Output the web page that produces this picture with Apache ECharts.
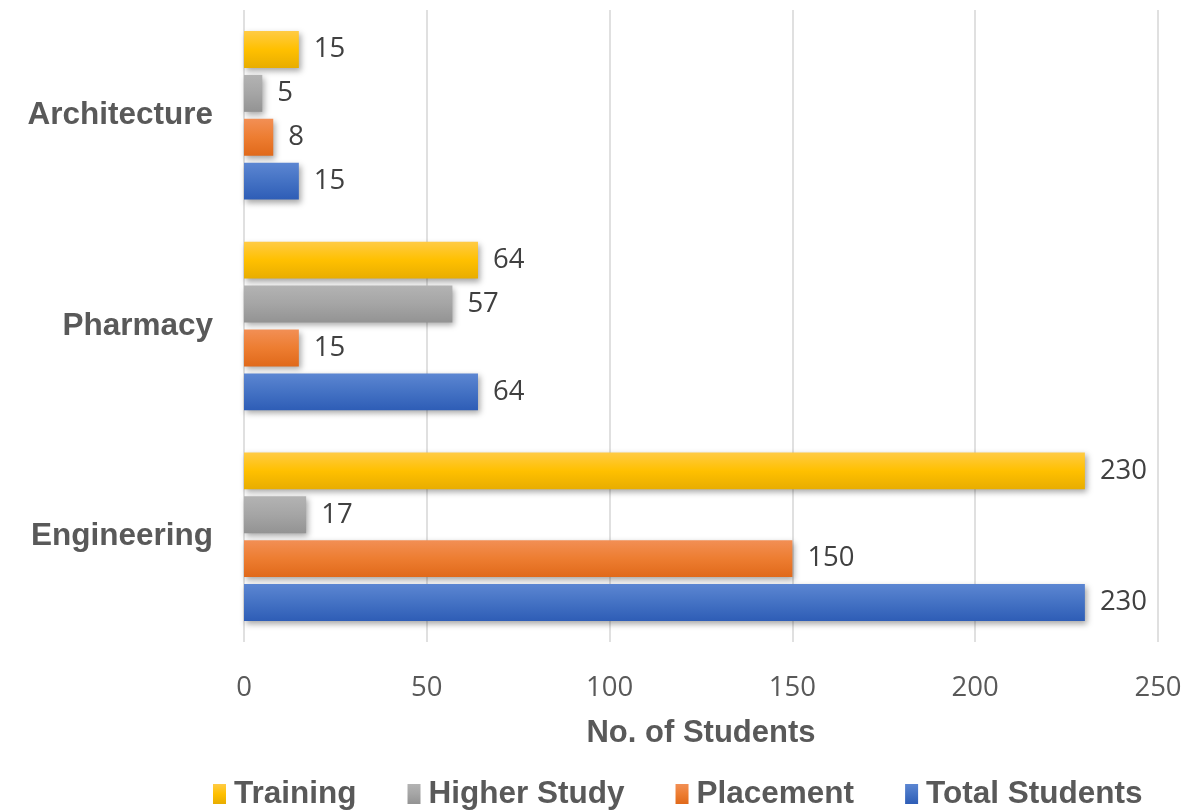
<!DOCTYPE html>
<html>
<head>
<meta charset="utf-8">
<script src="https://cdn.jsdelivr.net/npm/echarts@6/dist/echarts.min.js"></script>
<style>
  html, body { margin: 0; padding: 0; background: #ffffff; }
  #chart { width: 1196px; height: 812px; }
</style>
</head>
<body>
<div id="chart"></div>
<script>
// Programmes (bottom to top on the vertical axis)
const categories = ['Engineering', 'Pharmacy', 'Architecture'];

// Student counts per programme, same order as categories
const training = [230, 64, 15];
const higherStudy = [17, 57, 5];
const placement = [150, 15, 8];
const totalStudents = [230, 64, 15];

// Value axis range
const xMin = 0;
const xMax = 250;
const xStep = 50;

const legendOrder = ['Training', 'Higher Study', 'Placement', 'Total Students'];

function shade(top, mid, bottom) {
  return new echarts.graphic.LinearGradient(0, 0, 0, 1, [
    { offset: 0, color: top },
    { offset: 0.5, color: mid },
    { offset: 1, color: bottom }
  ]);
}

const palette = {
  'Training': shade('#FFCB45', '#FFC000', '#E8AD00'),
  'Higher Study': shade('#B3B3B3', '#A5A5A5', '#939393'),
  'Placement': shade('#F28F55', '#ED7D31', '#E0691A'),
  'Total Students': shade('#5C86D2', '#4472C4', '#2E5DB6')
};

function barSeries(name, values) {
  return {
    name: name,
    type: 'bar',
    data: values,
    barCategoryGap: '20%',
    barGap: '19%',
    itemStyle: {
      color: palette[name],
      shadowColor: 'rgba(0,0,0,0.35)',
      shadowBlur: 6,
      shadowOffsetX: 2,
      shadowOffsetY: 3
    },
    label: {
      show: true,
      position: 'right',
      distance: 15,
      color: '#404040',
      fontFamily: 'Open Sans',
      fontSize: 27.5
    }
  };
}

const chart = echarts.init(document.getElementById('chart'), null, { renderer: 'canvas' });

chart.setOption({
  backgroundColor: '#ffffff',
  animation: false,
  grid: { left: 244, right: 38, top: 10, bottom: 170, containLabel: false },
  legend: {
    data: legendOrder,
    left: 208,
    top: 773,
    icon: 'rect',
    itemWidth: 13,
    itemHeight: 20,
    itemGap: 51,
    itemStyle: { shadowBlur: 0, shadowOffsetX: 0, shadowOffsetY: 0 },
    textStyle: {
      color: '#595959',
      fontFamily: 'Liberation Sans',
      fontWeight: 'bold',
      fontSize: 31.5,
      padding: [0, 0, 0, 3]
    }
  },
  xAxis: {
    type: 'value',
    min: xMin,
    max: xMax,
    interval: xStep,
    name: 'No. of Students',
    nameLocation: 'middle',
    nameGap: 76,
    nameTextStyle: {
      color: '#595959',
      fontFamily: 'Liberation Sans',
      fontWeight: 'bold',
      fontSize: 31
    },
    axisLine: { show: false },
    axisTick: { show: false },
    axisLabel: {
      color: '#595959',
      fontFamily: 'Open Sans',
      fontSize: 27.5,
      margin: 32
    },
    splitLine: { show: true, lineStyle: { color: '#d6d6d6', width: 1.5 } }
  },
  yAxis: {
    type: 'category',
    data: categories,
    axisLine: { show: false },
    axisTick: { show: false },
    axisLabel: {
      color: '#595959',
      fontFamily: 'Liberation Sans',
      fontWeight: 'bold',
      fontSize: 31.5,
      margin: 31
    }
  },
  series: [
    barSeries('Training', training),
    barSeries('Higher Study', higherStudy),
    barSeries('Placement', placement),
    barSeries('Total Students', totalStudents)
  ]
});
</script>
</body>
</html>
